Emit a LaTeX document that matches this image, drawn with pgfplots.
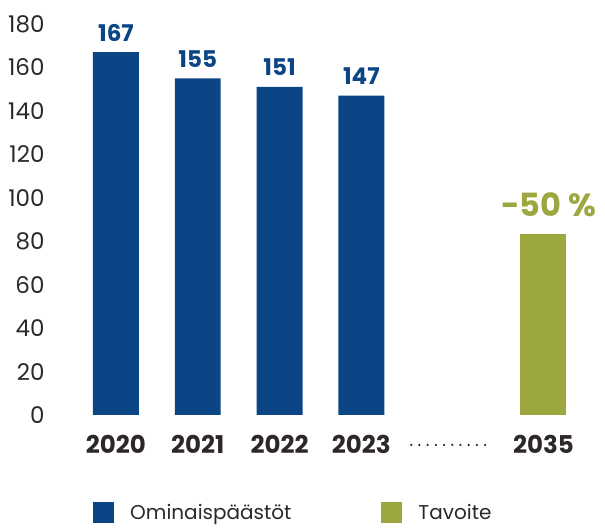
\documentclass[border=0pt]{standalone}
\usepackage{fontspec}
\setmainfont{Poppins}
\usepackage{pgfplots}
\pgfplotsset{compat=1.18}
\definecolor{barBlue}{RGB}{11,69,134}
\definecolor{barGreen}{RGB}{157,167,63}
\definecolor{txt}{RGB}{45,39,40}

\begin{document}
\begin{tikzpicture}
\useasboundingbox (0,0) rectangle (605pt,529pt);
\begin{axis}[
    at={(58.7pt,114pt)}, anchor=south west,
    scale only axis,
    width=542pt, height=391pt,
    xmin=-0.7, xmax=5.926,
    ymin=0, ymax=180,
    ybar, bar width=0.562, bar shift=0pt,
    axis line style={draw=none},
    tick style={draw=none},
    major tick length=0pt,
    clip=false,
    ytick={0,20,...,180},
    xtick={0,1,2,3,5.226},
    xticklabels={2020,2021,2022,2023,2035},
    /pgf/number format/assume math mode=true,
    yticklabel style={anchor=east, inner sep=0pt, xshift=-14pt,
        font=\fontsize{23}{26}\selectfont, text=txt},
    xticklabel style={anchor=base, inner sep=0pt, yshift=-39pt,
        font=\fontsize{24.5}{28}\selectfont\bfseries, text=txt},
    legend columns=2,
    legend style={at={(0.0633,-0.2505)}, anchor=west, draw=none, fill=none,
        inner sep=0pt, nodes={inner sep=0pt, text=txt},
        font=\fontsize{20}{24}\selectfont,
        /tikz/every odd column/.style={column sep=16pt},
        /tikz/every even column/.style={column sep=90pt}},
    legend image code/.code={\fill[#1] (0pt,-10.5pt) rectangle (21pt,10.5pt);},
]
% Ominaispäästöt
\addplot[fill=barBlue, draw=none,
    nodes near coords,
    every node near coord/.append style={anchor=base, inner sep=0pt, yshift=11pt,
        font=\fontsize{23}{26}\selectfont\bfseries, text=barBlue}]
    coordinates {(0,167) (1,155) (2,151) (3,147)};
\addlegendentry{Ominaispäästöt}
% Tavoite
\addplot[fill=barGreen, draw=none,
    nodes near coords={-50~\%},
    every node near coord/.append style={anchor=base, inner sep=0pt, yshift=17pt, xshift=5pt,
        font=\fontsize{32}{38}\selectfont\bfseries, text=barGreen}]
    coordinates {(5.226,83.5)};
\addlegendentry{Tavoite}
% dotted gap marker between 2023 and 2035
\draw[txt, line width=2.5pt, line cap=round, dash pattern=on 0pt off 8.2pt]
    (axis cs:3.61,-13.8) -- (axis cs:4.61,-13.8);
\end{axis}
\end{tikzpicture}
\end{document}
